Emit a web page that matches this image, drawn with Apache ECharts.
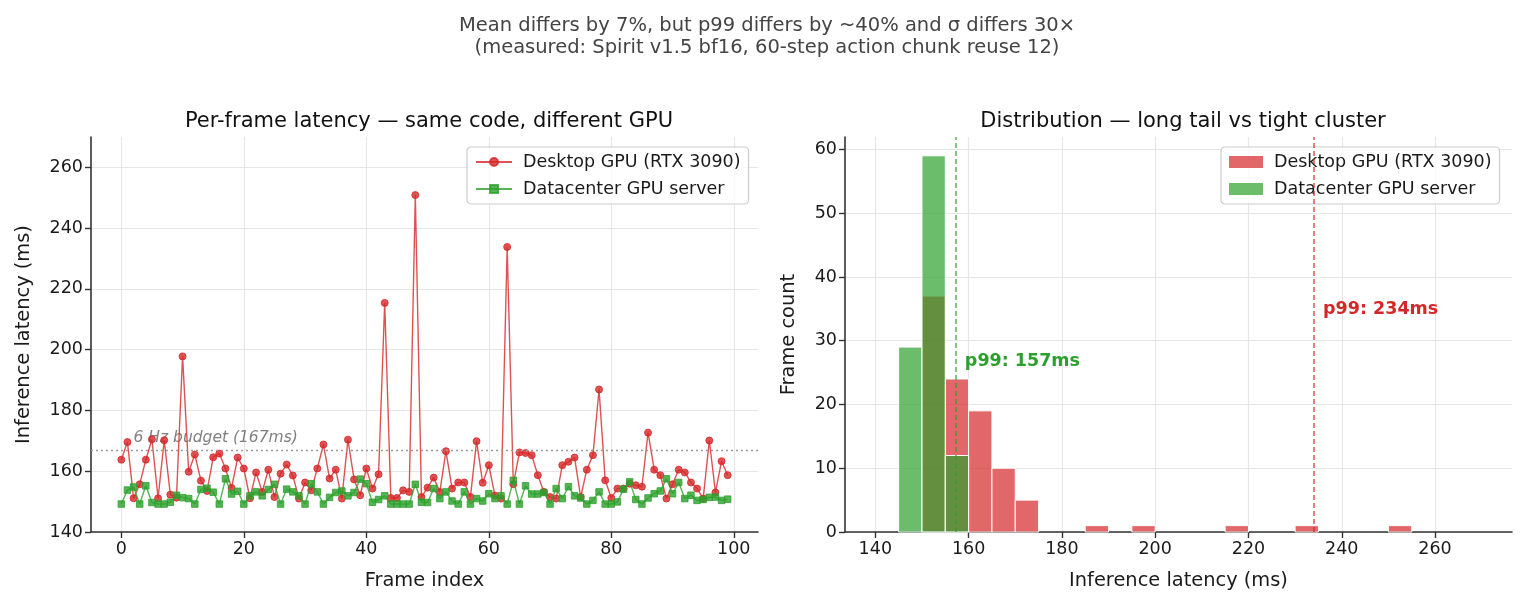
<!DOCTYPE html>
<html>
<head>
<meta charset="utf-8">
<script src="https://cdn.jsdelivr.net/npm/echarts@6/dist/echarts.min.js"></script>
<style>
html,body{margin:0;padding:0;background:#fff;}
#chart{width:1525px;height:605px;}
</style>
</head>
<body>
<div id="chart"></div>
<script>
// ---------------- data ----------------
const seriesNames = ['Desktop GPU (RTX 3090)', 'Datacenter GPU server'];
const desktopMs = [
163.8,169.6,151.1,155.7,163.8,170.5,151.1,170.2,152.3,151.3,
197.8,159.8,165.5,156.9,153.5,164.6,165.8,160.9,154.5,164.5,
160.9,151.1,159.6,153.2,160.5,151.5,159.2,162.2,158.6,151.0,
156.3,153.7,160.9,168.8,157.6,160.5,151.0,170.4,157.3,152.1,
160.9,154.3,159.0,215.4,151.2,151.2,153.7,153.2,250.9,151.5,
154.6,157.9,153.2,166.6,154.3,156.3,156.3,151.5,169.9,156.2,
162.0,152.0,151.0,233.8,155.7,166.2,166.0,165.3,158.7,153.2,
151.5,151.0,162.0,163.1,164.5,151.5,160.5,165.3,186.9,157.0,
151.2,154.3,154.3,155.9,155.4,154.9,172.7,160.5,158.7,151.0,
155.7,160.5,159.6,156.3,154.3,151.0,170.1,153.0,163.3,158.7];
const datacenterMs = [
149.2,153.8,154.8,149.2,155.2,149.7,149.2,149.2,149.8,152.1,
151.3,151.0,149.2,154.0,154.4,153.1,149.2,157.5,152.5,153.4,
149.2,151.9,153.2,151.9,154.0,155.7,149.2,154.1,153.2,151.9,
149.2,155.9,153.2,149.2,151.4,153.0,153.5,151.9,153.0,157.4,
155.9,149.8,150.7,151.9,149.2,149.2,149.2,149.2,155.7,149.8,
149.7,154.3,151.0,153.2,150.2,149.2,153.2,149.2,151.0,150.2,
152.6,151.0,151.9,149.2,157.0,149.2,155.2,152.5,152.5,153.0,
149.2,154.3,151.0,154.9,151.9,151.2,149.2,150.4,153.2,149.2,
149.2,149.9,154.1,156.5,150.7,149.2,151.2,152.6,153.5,157.5,
152.6,156.3,151.0,152.1,150.4,150.7,151.4,151.5,150.4,150.8];
const budgetMs = 167;
const desktopP99 = 234.0;
const datacenterP99 = 157.2;
const binStart = 140, binWidth = 5, binCount = 26;
const frameTicks = [0, 20, 40, 60, 80, 100];
const latencyTicks = [140, 160, 180, 200, 220, 240, 260];
const histXTicks = [140, 160, 180, 200, 220, 240, 260];
const countTicks = [0, 10, 20, 30, 40, 50, 60];

// ---------------- helpers ----------------
const FONT = 'DejaVu Sans';
const RED = '#d62728', GREEN = '#2ca02c';
const redA = 'rgba(214,39,40,0.8)', greenA = 'rgba(44,160,44,0.8)';
const redH = 'rgba(214,39,40,0.7)', greenH = 'rgba(44,160,44,0.7)';

function toPoints(vals) { return vals.map((v, i) => [i, v]); }
function histogram(vals) {
  const counts = new Array(binCount).fill(0);
  vals.forEach(v => {
    let k = Math.floor((v - binStart) / binWidth);
    if (k === binCount && v === binStart + binCount * binWidth) k = binCount - 1;
    if (k >= 0 && k < binCount) counts[k]++;
  });
  const out = [];
  counts.forEach((c, k) => { if (c > 0) out.push([binStart + k * binWidth, binStart + (k + 1) * binWidth, c]); });
  return out;
}
function histRender(fill) {
  return function (params, api) {
    const p0 = api.coord([api.value(0), api.value(2)]);
    const p1 = api.coord([api.value(1), 0]);
    return {
      type: 'rect',
      shape: { x: p0[0], y: p0[1], width: p1[0] - p0[0], height: p1[1] - p0[1] },
      style: { fill: fill, stroke: '#ffffff', lineWidth: 1 }
    };
  };
}
const leftNotes = [{ pos: [2.0, 170.9], text: '6 Hz budget (167ms)', color: '#808080', font: 'italic 15.5px "DejaVu Sans"' }];
const rightNotes = [
  { pos: [datacenterP99 + 2, 26.8], text: 'p99: ' + Math.round(datacenterP99) + 'ms', color: GREEN, font: 'bold 17.5px "DejaVu Sans"' },
  { pos: [desktopP99 + 2, 34.9], text: 'p99: ' + Math.round(desktopP99) + 'ms', color: RED, font: 'bold 17.5px "DejaVu Sans"' }
];
function noteRender(notes) {
  return function (params, api) {
    const d = notes[params.dataIndex];
    const p = api.coord(d.pos);
    return { type: 'text', x: p[0], y: p[1], style: { text: d.text, fill: d.color, font: d.font, align: 'left', verticalAlign: 'middle' } };
  };
}

function axisCommon(ticks) {
  return {
    axisLine: { show: true, onZero: false, lineStyle: { color: '#333', width: 1.6 } },
    axisTick: { show: true, length: 6, customValues: ticks, lineStyle: { color: '#333', width: 1.4 } },
    axisLabel: { customValues: ticks, fontSize: 17.5, color: '#1a1a1a', fontFamily: FONT },
    splitLine: { show: true, lineStyle: { color: '#e6e6e6', width: 1.2 } },
    nameLocation: 'middle',
    nameTextStyle: { fontSize: 19.4, color: '#1a1a1a', fontFamily: FONT }
  };
}

const legendBase = {
  orient: 'vertical',
  backgroundColor: 'rgba(255,255,255,0.8)',
  borderColor: '#cccccc', borderWidth: 1.2, borderRadius: 4,
  padding: [6, 8, 6, 8],
  itemGap: 9,
  textStyle: { fontSize: 17.5, color: '#1a1a1a', fontFamily: FONT, padding: [0, 0, 0, 6] }
};

const chart = echarts.init(document.getElementById('chart'));
chart.setOption({
  animation: false,
  textStyle: { fontFamily: FONT },
  title: [
    { text: 'Mean differs by 7%, but p99 differs by ~40% and σ differs 30×\n(measured: Spirit v1.5 bf16, 60-step action chunk reuse 12)',
      left: 762, top: 10, textAlign: 'center',
      textStyle: { fontSize: 19.5, fontWeight: 'normal', color: '#444', lineHeight: 22, fontFamily: FONT } },
    { text: 'Per-frame latency — same code, different GPU', left: 424, top: 106, textAlign: 'center',
      textStyle: { fontSize: 21, fontWeight: 'normal', color: '#111', fontFamily: FONT } },
    { text: 'Distribution — long tail vs tight cluster', left: 1178, top: 106, textAlign: 'center',
      textStyle: { fontSize: 21, fontWeight: 'normal', color: '#111', fontFamily: FONT } }
  ],
  legend: [
    Object.assign({}, legendBase, {
      left: 467, top: 147, itemWidth: 36, itemHeight: 10,
      data: seriesNames.map(n => ({ name: n }))
    }),
    Object.assign({}, legendBase, {
      left: 1221, top: 147, itemWidth: 34, itemHeight: 12,
      data: [
        { name: seriesNames[0], icon: 'rect', itemStyle: { color: redH, borderWidth: 0 } },
        { name: seriesNames[1], icon: 'rect', itemStyle: { color: greenH, borderWidth: 0 } }
      ]
    })
  ],
  grid: [
    { left: 91, top: 137, width: 667, height: 395 },
    { left: 845, top: 137, width: 667, height: 395 }
  ],
  xAxis: [
    Object.assign(axisCommon(frameTicks), { type: 'value', gridIndex: 0, min: -4.95, max: 103.95, name: 'Frame index', nameGap: 39 }),
    Object.assign(axisCommon(histXTicks), { type: 'value', gridIndex: 1, min: 133.5, max: 276.5, name: 'Inference latency (ms)', nameGap: 39 })
  ],
  yAxis: [
    Object.assign(axisCommon(latencyTicks), { type: 'value', gridIndex: 0, min: 140, max: 270, name: 'Inference latency (ms)', nameGap: 58 }),
    Object.assign(axisCommon(countTicks), { type: 'value', gridIndex: 1, min: 0, max: 61.95, name: 'Frame count', nameGap: 47 })
  ],
  series: [
    { type: 'custom', xAxisIndex: 0, yAxisIndex: 0, z: 1, silent: true,
      renderItem: noteRender(leftNotes), data: leftNotes.map(d => d.pos) },
    { name: seriesNames[0], type: 'line', xAxisIndex: 0, yAxisIndex: 0, z: 3,
      data: toPoints(desktopMs), symbol: 'circle', symbolSize: 7, showSymbol: true,
      lineStyle: { color: redA, width: 1.4 },
      itemStyle: { color: redA, borderColor: redA, borderWidth: 1 },
      markLine: { silent: true, symbol: ['none', 'none'], label: { show: false },
        lineStyle: { color: '#9a9a9a', type: [2, 3], width: 1.3 }, data: [{ yAxis: budgetMs }] } },
    { name: seriesNames[1], type: 'line', xAxisIndex: 0, yAxisIndex: 0, z: 4,
      data: toPoints(datacenterMs), symbol: 'rect', symbolSize: 6.5, showSymbol: true,
      lineStyle: { color: greenA, width: 1.4 },
      itemStyle: { color: greenA, borderColor: greenA, borderWidth: 1 } },
    { name: seriesNames[0], type: 'custom', xAxisIndex: 1, yAxisIndex: 1, z: 2,
      renderItem: histRender(redH), encode: { x: [0, 1], y: 2 },
      data: histogram(desktopMs),
      markLine: { silent: true, symbol: ['none', 'none'], label: { show: false },
        lineStyle: { color: redA, type: [5, 3], width: 1.5 }, data: [{ xAxis: desktopP99 }] } },
    { name: seriesNames[1], type: 'custom', xAxisIndex: 1, yAxisIndex: 1, z: 3,
      renderItem: histRender(greenH), encode: { x: [0, 1], y: 2 },
      data: histogram(datacenterMs),
      markLine: { silent: true, symbol: ['none', 'none'], label: { show: false },
        lineStyle: { color: greenA, type: [5, 3], width: 1.5 }, data: [{ xAxis: datacenterP99 }] } },
    { type: 'custom', xAxisIndex: 1, yAxisIndex: 1, z: 5, silent: true,
      renderItem: noteRender(rightNotes), data: rightNotes.map(d => d.pos) }
  ]
});
</script>
</body>
</html>
